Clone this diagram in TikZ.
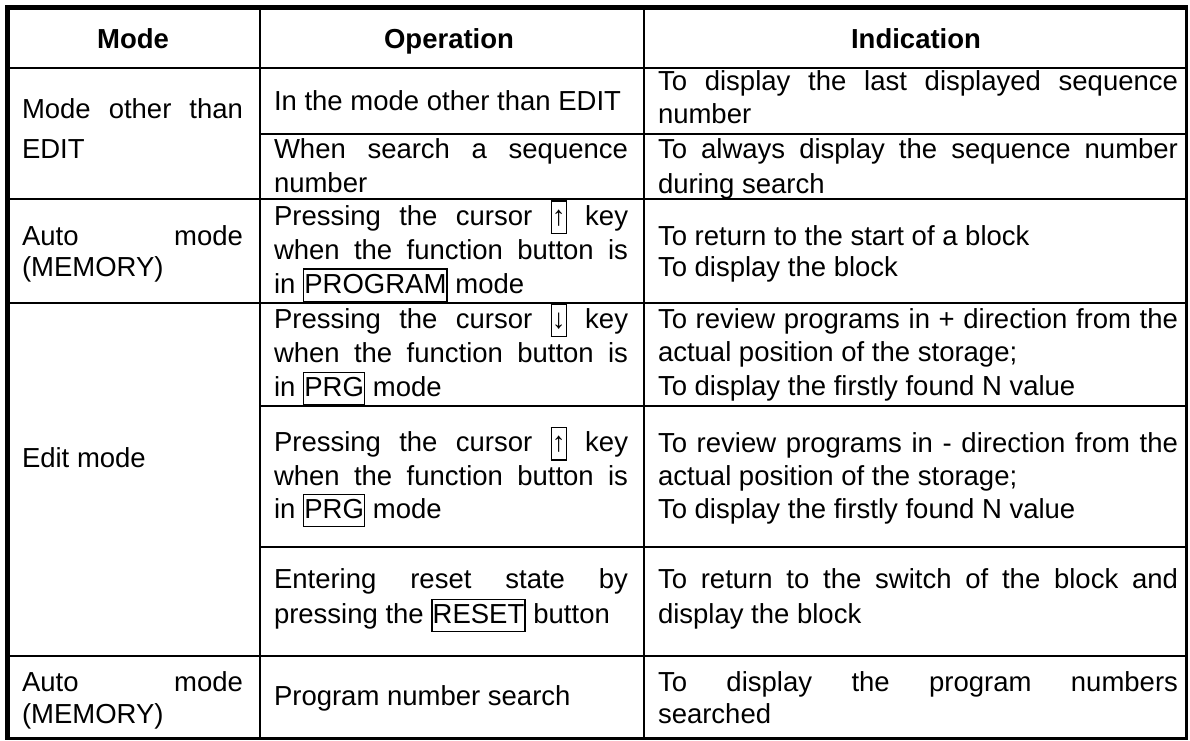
\documentclass[tikz,border=0pt]{standalone}
\usepackage{fontspec}
\setmainfont{Liberation Sans}
% size, leading and loose justification for the body cells
\newcommand\cellset[1]{\fontsize{27.5pt}{#1}\selectfont\tolerance=10000\hbadness=10000\relax}
% framed key / button name inside running text
\newcommand\kbox[1]{\smash{\fboxsep=0pt\fboxrule=1.3pt\fbox{\rule[-7.5pt]{0pt}{31pt}#1}}}
\tikzset{
  cell/.style={anchor=base west, inner sep=0pt, outer sep=0pt, align=justify,
    execute at begin node={\cellset{#1}}},
  cell/.default=34pt,
  modecell/.style={cell=#1, text width=221pt},
  modecell/.default=34pt,
  opcell/.style={cell=#1, text width=354pt},
  opcell/.default=34pt,
  indcell/.style={cell=#1, text width=520pt},
  indcell/.default=34pt,
  head/.style={anchor=base, inner sep=0pt, font=\fontsize{27.5pt}{34pt}\selectfont\bfseries},
  rule/.style={line width=2.4pt},
}
\begin{document}
\begin{tikzpicture}[x=1pt,y=-1pt]
\useasboundingbox (0,0) rectangle (1190,740);
\fill[white] (0,0) rectangle (1190,740);

% outer frame
\draw[line width=5pt] (7.5,5) -- (7.5,740);
\draw[line width=5pt] (5,7.5) -- (1188.3,7.5);
\draw[line width=3.4pt] (1186.6,5) -- (1186.6,740);
\draw[line width=3.4pt] (5,738.3) -- (1188.3,738.3);

% column rules
\draw[rule] (259.7,7.5) -- (259.7,738.3);
\draw[rule] (643.7,7.5) -- (643.7,738.3);

% row rules
\draw[rule] (7.5,68) -- (1186.6,68);
\draw[rule] (259.7,133.7) -- (1186.6,133.7);
\draw[rule] (7.5,199.2) -- (1186.6,199.2);
\draw[rule] (7.5,302.8) -- (1186.6,302.8);
\draw[rule] (259.7,405.7) -- (1186.6,405.7);
\draw[rule] (259.7,546.7) -- (1186.6,546.7);
\draw[rule] (7.5,656.2) -- (1186.6,656.2);

% header
\node[head] (hmode) at (133,48) {Mode};
\node[head] (hop)   at (449,48) {Operation};
\node[head] (hind)  at (916,48) {Indication};

% mode column
\node[modecell=40pt] (mode1) at (22,118.3) {Mode other than\linebreak EDIT};
\node[modecell=31.7pt] (mode2) at (22,245) {Auto mode\linebreak (MEMORY)};
\node[modecell] (mode3) at (22,467) {Edit mode};
\node[modecell=31.7pt] (mode4) at (22,691.7) {Auto mode\linebreak (MEMORY)};

% operation column
\node[opcell] (op1) at (274,110) {In the mode other than EDIT};
\node[opcell=34.4pt] (op2) at (274,158.3) {When search a sequence\linebreak number};
\node[opcell=34pt] (op3) at (274,225) {Pressing the cursor \kbox{↑} key\linebreak when the function button is\linebreak in \kbox{PROGRAM} mode};
\node[opcell=34.2pt] (op4) at (274,328.3) {Pressing the cursor \kbox{↓} key\linebreak when the function button is\linebreak in \kbox{PRG} mode};
\node[opcell=33.3pt] (op5) at (274,451.7) {Pressing the cursor \kbox{↑} key\linebreak when the function button is\linebreak in \kbox{PRG} mode};
\node[opcell=35pt] (op6) at (274,588.3) {Entering reset state by\linebreak pressing the \kbox{RESET} button};
\node[opcell] (op7) at (274,705) {Program number search};

% indication column
\node[indcell=33.3pt] (ind1) at (658,90) {To display the last displayed sequence\linebreak number};
\node[indcell=34.7pt] (ind2) at (658,158.3) {To always display the sequence number\linebreak during search};
\node[indcell=31.7pt] (ind3) at (658,245) {To return to the start of a block\\ To display the block};
\node[indcell=33.4pt] (ind4) at (658,328.3) {To review programs in + direction from the\linebreak actual position of the storage;\\ To display the firstly found N value};
\node[indcell=33pt] (ind5) at (658,452.5) {To review programs in - direction from the\linebreak actual position of the storage;\\ To display the firstly found N value};
\node[indcell=35pt] (ind6) at (658,588.3) {To return to the switch of the block and\linebreak display the block};
\node[indcell=31.7pt] (ind7) at (658,691.7) {To display the program numbers\linebreak searched};
\end{tikzpicture}
\end{document}
